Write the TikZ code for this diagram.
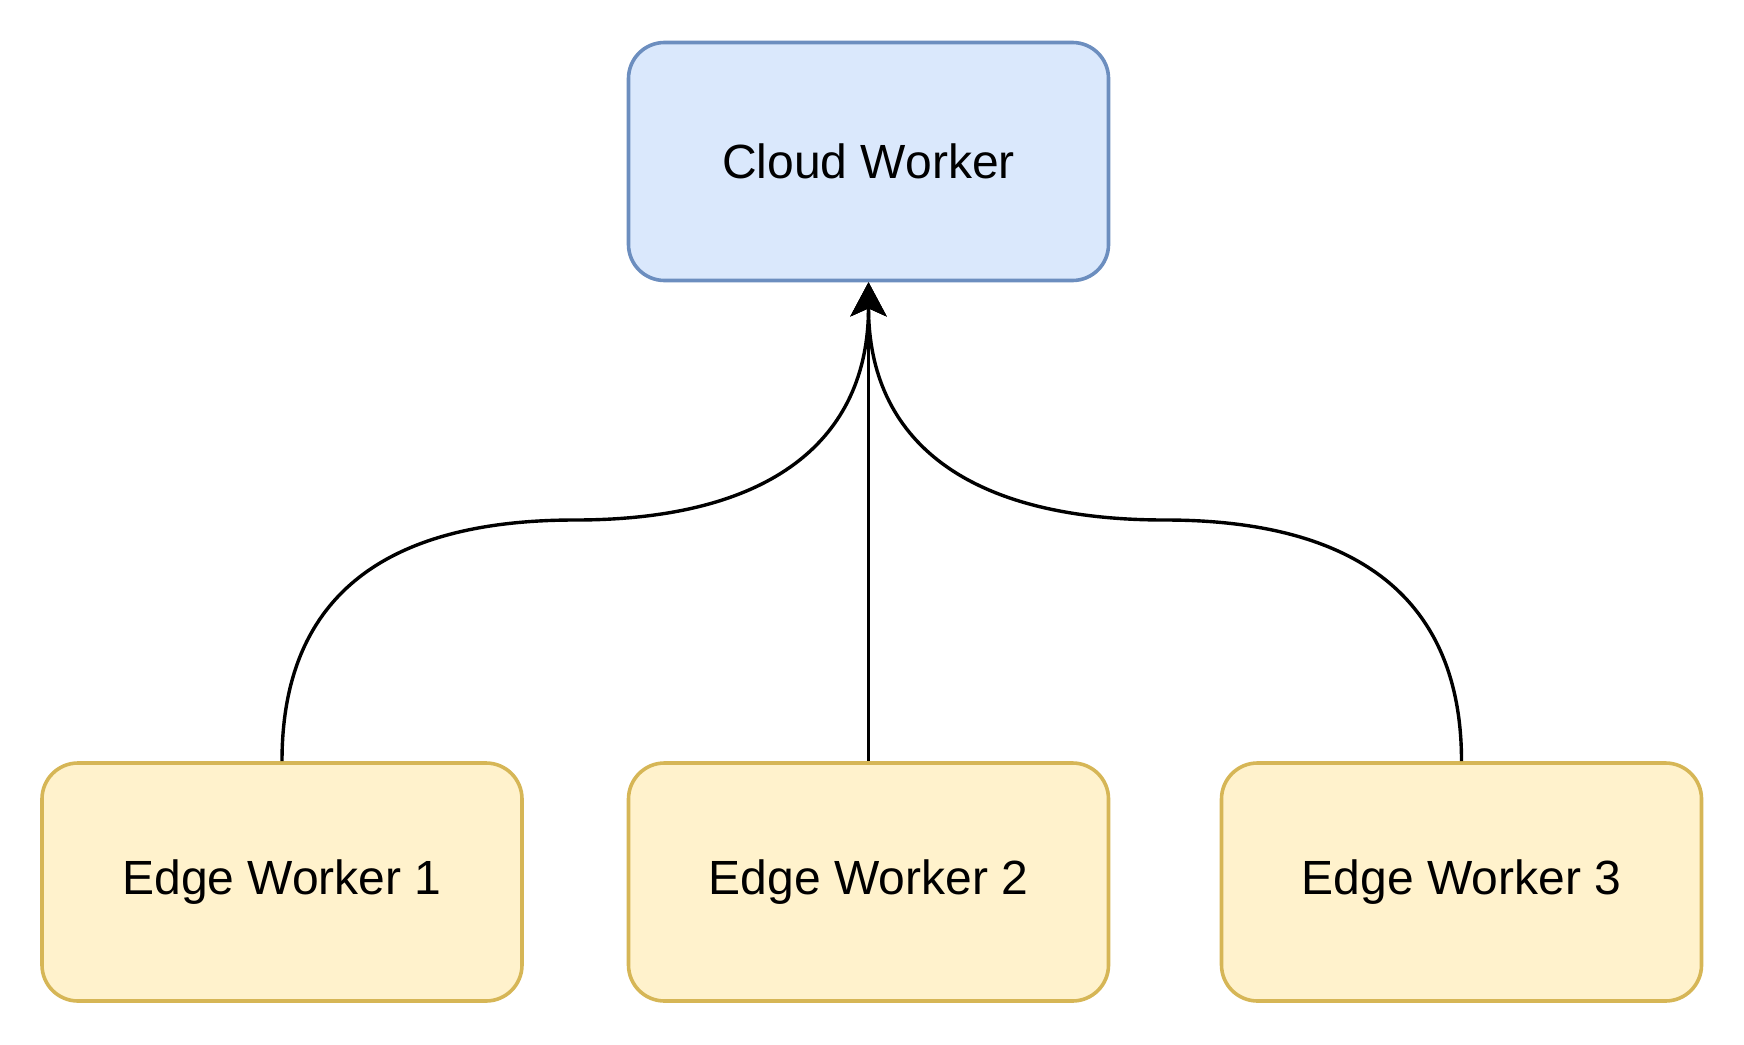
\documentclass[tikz,border=0pt]{standalone}
\usepackage{fontspec}
\setmainfont{Liberation Sans}
\usetikzlibrary{arrows.meta}
\definecolor{cloudfill}{HTML}{DAE8FC}
\definecolor{cloudline}{HTML}{6C8EBF}
\definecolor{edgefill}{HTML}{FFF2CC}
\definecolor{edgeline}{HTML}{D6B656}
\begin{document}
\begin{tikzpicture}[x=0.5pt,y=-0.5pt,
  worker/.style={draw, line width=1.8pt, rounded corners=18pt, minimum width=240pt, minimum height=119pt, inner sep=0pt, font=\fontsize{24}{29}\selectfont},
  cloudbox/.style={worker, fill=cloudfill, draw=cloudline},
  edgebox/.style={worker, fill=edgefill, draw=edgeline},
  link/.style={line width=1.7pt, -{Stealth[length=17pt,width=18pt,inset=4pt]}}]
\useasboundingbox (0,0) rectangle (1744,1044);
\node[cloudbox] (cw) at (868.5,161.5) {Cloud Worker};
\node[edgebox] (e1) at (282,882) {Edge Worker 1};
\node[edgebox] (e2) at (868.5,882) {Edge Worker 2};
\node[edgebox] (e3) at (1461.5,882) {Edge Worker 3};
\coordinate (m1) at (575,520);
\coordinate (m3) at (1165,520);
\draw[link] (e1.north) .. controls (282,600.7) and (379.7,520) .. (m1) .. controls (770.7,520) and (868.5,440.3) .. (cw.south);
\draw[link] (e2.north) -- (cw.south);
\draw[link] (e3.north) .. controls (1461.5,600.7) and (1359.7,520) .. (m3) .. controls (966.3,520) and (868.5,440.3) .. (cw.south);
\end{tikzpicture}
\end{document}
